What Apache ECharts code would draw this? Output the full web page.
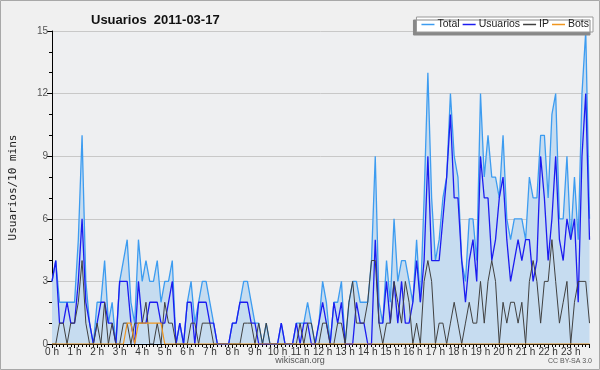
<!DOCTYPE html>
<html><head><meta charset="utf-8">
<script src="https://cdn.jsdelivr.net/npm/echarts@6/dist/echarts.min.js"></script>
<style>html,body{margin:0;padding:0;background:#f0f0f0}#c{width:600px;height:370px}</style>
</head><body><div id="c"></div>
<script>
// tick labels (one per hour)
const hourLabels = ['0 h','1 h','2 h','3 h','4 h','5 h','6 h','7 h','8 h','9 h','10 h','11 h','12 h','13 h','14 h','15 h','16 h','17 h','18 h','19 h','20 h','21 h','22 h','23 h'];
const yTicks = [0,3,6,9,12,15];
// values every 10 minutes (144 points)
const total = [
 3,4,2,2,2,2, 2,5,10,3,1,0, 2,2,4,1,2,0, 3,4,5,2,1,5,
 3,4,3,3,4,2, 3,3,4,0,1,0, 2,3,1,2,3,3, 2,1,0,0,0,0,
 1,1,2,3,3,2, 1,1,0,1,0,0, 0,1,0,0,0,1, 1,1,2,1,0,1,
 3,2,0,2,2,3, 0,2,3,3,2,2, 2,4,9,2,1,4, 2,6,3,4,4,3,
 2,5,2,7,13,7, 4,5,7,8,12,9, 8,4,3,6,6,4, 12,8,10,8,8,7,
 10,6,5,6,6,6, 5,8,7,7,10,10, 7,11,12,6,6,9, 5,8,5,12,15,6];
const usuarios = [
 3,4,1,1,2,1, 1,3,6,2,1,0, 1,2,2,1,1,0, 3,3,3,1,0,3,
 1,1,2,2,2,1, 1,2,3,0,1,0, 2,2,0,2,2,2, 1,1,0,0,0,0,
 1,1,2,2,2,1, 1,0,0,0,0,0, 0,1,0,0,0,1, 0,1,1,0,0,1,
 2,1,0,2,1,2, 0,0,0,2,1,1, 0,0,5,1,1,3, 1,3,1,3,1,1,
 2,4,2,4,9,4, 4,4,6,8,11,7, 7,4,2,4,5,3, 9,7,7,4,5,7,
 8,5,3,4,5,4, 5,5,3,4,9,7, 4,6,9,5,4,6, 5,6,2,9,12,5];
const ip = [
 0,0,1,1,0,1, 1,2,4,1,0,0, 1,0,2,0,1,0, 0,1,1,0,1,1,
 1,2,0,0,1,0, 2,1,1,0,0,0, 0,1,1,0,1,1, 1,0,0,0,0,0,
 0,0,0,1,1,1, 0,1,0,1,0,0, 0,0,0,0,0,0, 1,0,1,1,0,0,
 1,1,0,0,1,1, 0,2,3,1,1,1, 2,4,4,1,0,1, 1,3,2,1,3,2,
 0,1,0,3,4,3, 0,1,1,0,1,2, 1,0,1,2,1,1, 3,1,3,4,3,0,
 2,1,2,2,1,2, 0,3,4,3,1,3, 3,5,3,1,2,3, 0,2,3,3,3,1];
const bots = [
 0,0,0,0,0,0, 0,0,0,0,0,0, 0,0,0,0,0,0, 0,0,1,1,0,1,
 1,1,1,1,1,1, 0,0,0,0,0,0, 0,0,0,0,0,0, 0,0,0,0,0,0,
 0,0,0,0,0,0, 0,0,0,0,0,0, 0,0,0,0,0,0, 0,0,0,0,0,0,
 0,0,0,0,0,0, 0,0,0,0,0,0, 0,0,0,0,0,0, 0,0,0,0,0,0,
 0,0,0,0,0,0, 0,0,0,0,0,0, 0,0,0,0,0,0, 0,0,0,0,0,0,
 0,0,0,0,0,0, 0,0,0,0,0,0, 0,0,0,0,0,0, 0,0,0,0,0,0];

const pts = arr => arr.map((v,i)=>[i,v]);
const chart = echarts.init(document.getElementById('c'), null, {renderer:'canvas'});
const F = 'Liberation Sans';
chart.setOption({
  animation:false,
  backgroundColor:'#f0f0f0',
  title:{text:'Usuarios  2011-03-17', left:86, top:9,
    textStyle:{fontFamily:F, fontSize:13, fontWeight:'bold', color:'#111'}},
  legend:{data:['Total','Usuarios','IP','Bots'], right:7, top:17, icon:'rect',
    itemWidth:13, itemHeight:1.5, itemGap:3, padding:[2,4,2,5],
    backgroundColor:'#fff', borderColor:'#999', borderWidth:1,
    shadowColor:'#888', shadowBlur:0, shadowOffsetX:-3, shadowOffsetY:3,
    textStyle:{fontFamily:F, fontSize:10.5, color:'#222', padding:[0,0,0,-2]}},
  grid:{left:45.5, right:10.5, top:31, bottom:26, show:true, backgroundColor:'#eeeff1', borderWidth:0},
  xAxis:{type:'value', min:0, max:143, interval:6,
    axisLine:{lineStyle:{color:'#000', width:1}},
    axisTick:{length:4, lineStyle:{color:'#000'}},
    minorTick:{show:true, splitNumber:6, length:3, lineStyle:{color:'#000'}},
    splitLine:{show:false},
    axisLabel:{showMaxLabel:false, margin:3, fontFamily:F, fontSize:10, color:'#333',
      formatter:v=> (v%6===0 && v/6<hourLabels.length) ? hourLabels[v/6] : ''}},
  yAxis:{type:'value', min:yTicks[0], max:yTicks[yTicks.length-1], interval:3,
    name:'Usuarios/10 mins', nameLocation:'middle', nameGap:33,
    nameTextStyle:{fontFamily:'DejaVu Sans Mono', fontSize:11, color:'#222'},
    axisLine:{show:true, lineStyle:{color:'#000', width:1}},
    axisTick:{show:true, length:5, lineStyle:{color:'#000'}},
    minorTick:{show:true, splitNumber:3, length:3, lineStyle:{color:'#000'}},
    splitLine:{lineStyle:{color:'#c8c8c8'}},
    axisLabel:{margin:4, fontFamily:F, fontSize:10, color:'#555'}},
  graphic:[
    {type:'rect', shape:{x:0.5,y:0.5,width:599,height:369}, style:{fill:'none', stroke:'#a8a8a8', lineWidth:1}, silent:true},
    {type:'text', left:'center', top:356, style:{text:'wikiscan.org', font:'9px "Liberation Sans"', fill:'#555'}},
    {type:'text', right:8, top:358, style:{text:'CC BY-SA 3.0', font:'7px "Liberation Sans"', fill:'#555'}}
  ],
  series:[
    {name:'Total', type:'line', data:pts(total), symbol:'none', color:'#3d9cf0',
      lineStyle:{color:'#3d9cf0', width:1.3}, areaStyle:{color:'#c6dcf0', opacity:1}},
    {name:'Usuarios', type:'line', data:pts(usuarios), symbol:'none', color:'#1c1cf0',
      lineStyle:{color:'#1c1cf0', width:1.3}},
    {name:'IP', type:'line', data:pts(ip), symbol:'none', color:'#404040',
      lineStyle:{color:'#404040', width:1}},
    {name:'Bots', type:'line', data:pts(bots), symbol:'none', color:'#f0961e',
      lineStyle:{color:'#f0961e', width:1.2}}
  ]
});
</script></body></html>
